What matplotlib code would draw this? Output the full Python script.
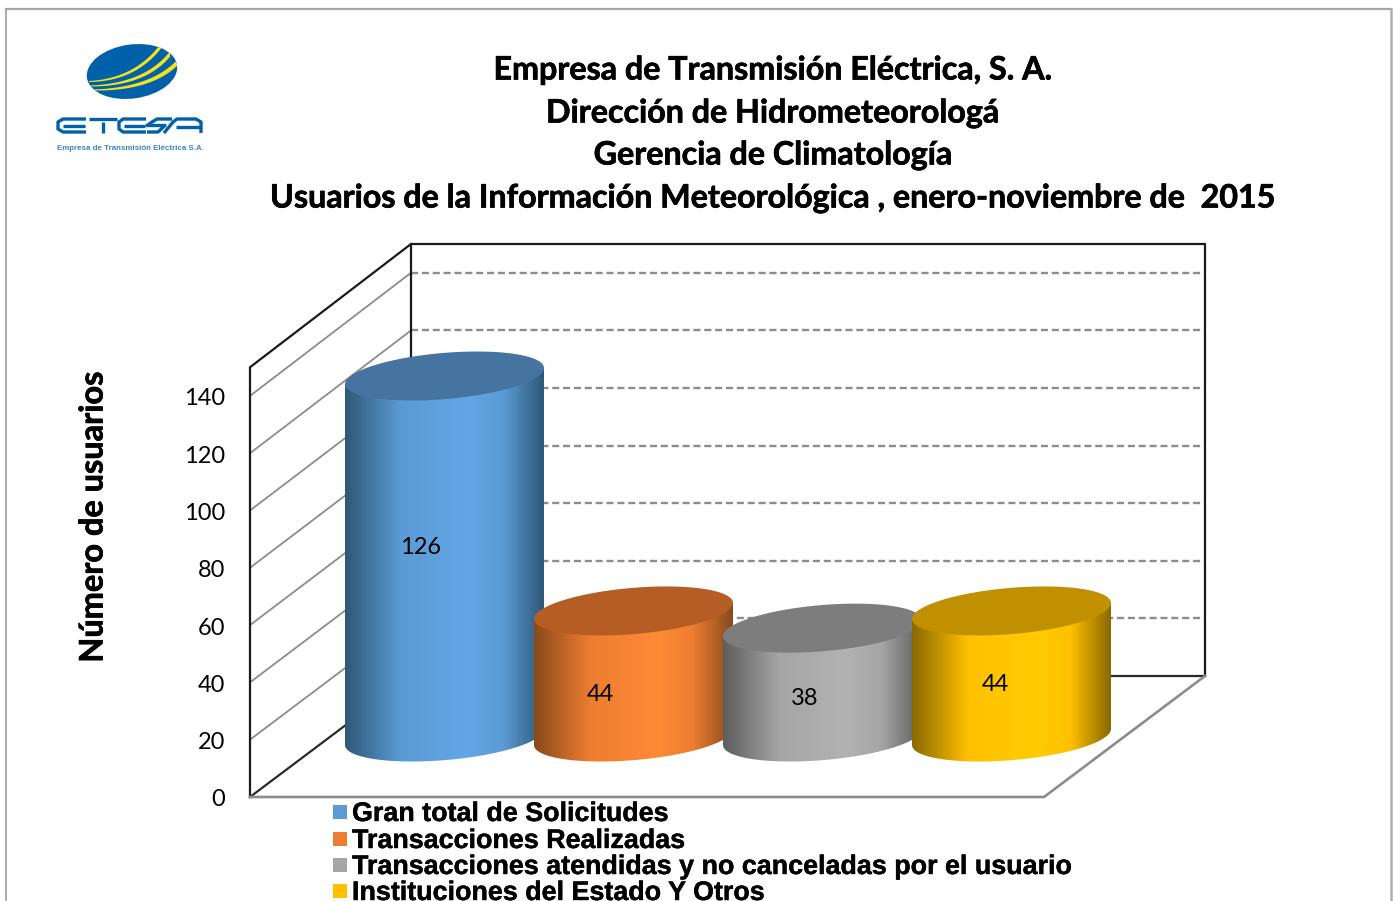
import matplotlib
matplotlib.use("Agg")
import matplotlib.pyplot as plt
import numpy as np
import matplotlib.patheffects as pe
from matplotlib.patches import Polygon, Ellipse, Rectangle

title_lines = ["Empresa de Transmisión Eléctrica, S. A.",
               "Dirección de Hidrometeorologá",
               "Gerencia de Climatología",
               "Usuarios de la Información Meteorológica , enero-noviembre de  2015"]
categories = ["Gran total de Solicitudes", "Transacciones Realizadas",
              "Transacciones atendidas y no canceladas por el usuario",
              "Instituciones del Estado Y Otros"]
values = [126, 44, 38, 44]
y_ticks = [0, 20, 40, 60, 80, 100, 120, 140]
y_max = 150
y_label = "Número de usuarios"

# edge, middle, highlight, top face
blues = ["#2f5878", "#5b9bd5", "#63a6e6", "#44749f"]
oranges = ["#8a4a1c", "#ed7d31", "#ff8a36", "#b55d24"]
greys = ["#5e5e5e", "#a5a5a5", "#b2b2b2", "#7d7d7d"]
yellows = ["#8a6a00", "#ffc000", "#ffcc00", "#c09000"]
palette = [blues, oranges, greys, yellows]
legend_colors = ["#5b9bd5", "#ed7d31", "#a5a5a5", "#ffc000"]

# figure is worked in pixels of the 1396x901 picture
fig = plt.figure(figsize=(13.96, 9.01), dpi=100)
ax = fig.add_axes([0, 0, 1, 1])
ax.axis("off")

x0, y0 = 250, 797      # front corner of the floor
dx, dy = 161, -121     # depth of the box
wall_w = 794
unit = 2.865           # pixels for one user, front edge
back_unit = 2.88       # same on the back wall


def val_y(v):
    return y0 - v * unit


def back_y(v):
    return y0 + dy - v * back_unit


# page frame
ax.plot([6, 6], [901, 9], color="#a6a6a6", lw=1.3)
ax.plot([6, 1391], [9, 9], color="#a6a6a6", lw=1.6)
ax.plot([1391, 1391], [9, 901], color="#b0b0b0", lw=1.8)

# gridlines
for v in y_ticks[1:]:
    ax.plot([x0, x0 + dx], [val_y(v), back_y(v)], color="#8c8c8c", lw=1.3, zorder=2)
    ax.plot([x0 + dx, x0 + dx + wall_w], [back_y(v), back_y(v)], color="#8c8c8c",
            lw=1.7, ls=(0, (3, 1.6)), zorder=2)

# box outlines
ax.plot([x0 + dx + wall_w, x0 + dx + wall_w, x0 + dx, x0 + dx], [y0 + dy, back_y(y_max), back_y(y_max), y0 + dy],
        color="#1a1a1a", lw=1.6, zorder=2)
ax.plot([x0, x0, x0 + dx], [y0, val_y(y_max), back_y(y_max)], color="#1a1a1a", lw=1.6, zorder=2)
ax.plot([x0, x0 + dx, x0 + dx + wall_w], [y0, y0 + dy, y0 + dy], color="#2a2a2a", lw=1.6, zorder=2)
ax.plot([x0, x0 + wall_w, x0 + wall_w + dx], [y0, y0, y0 + dy], color="#8c8c8c", lw=1.9, zorder=2)

# cylinders
centers = [444.5, 633.5, 822.5, 1011.5]
base_y = 737
rad = 94
rad_d = 24.5
shear = dx / -dy


def ring(cx, cy, t):
    return cx + rad * np.cos(t) + rad_d * shear * np.sin(t), cy - rad_d * np.sin(t)


t_right = np.arctan2(rad_d * shear, rad)
half = rad + 5.5
for i, (c, v, cols) in enumerate(zip(centers, values, palette)):
    z = 5 + i
    top_y = base_y - v * unit
    t = np.linspace(t_right + np.pi, t_right + 2 * np.pi, 80)
    bx, by = ring(c, base_y, t)
    # side runs up to the chord of the top ring, the top face hides the rest
    ux, uy = ring(c, top_y, t[[-1, 0]])
    side = Polygon(np.r_[np.c_[bx, by], np.c_[ux, uy]], closed=True, fc="none", ec="none", zorder=z)
    ax.add_patch(side)
    rgb = matplotlib.colors.LinearSegmentedColormap.from_list(
        "c", [(0, cols[0]), (0.28, cols[1]), (0.62, cols[2]), (0.8, cols[1]), (1, cols[0])])
    grad = np.linspace(0, 1, 200).reshape(1, -1)
    im = ax.imshow(grad, cmap=rgb, extent=[c - half, c + half, base_y + 40, top_y - 30],
                   aspect="auto", zorder=z, interpolation="bilinear")
    im.set_clip_path(side)
    tx, ty = ring(c, top_y, np.linspace(0, 2 * np.pi, 120))
    ax.add_patch(Polygon(np.c_[tx, ty], closed=True, fc=cols[3], ec="none", zorder=z + 0.5))

# value labels
label_pos = [(421, 547.5), (600, 694.5), (804.5, 698.5), (995.5, 684.5)]
for (lx, ly), v in zip(label_pos, values):
    ax.text(lx, ly, str(v), ha="center", va="center", fontsize=17, family="Lato", color="black", zorder=20)

# axis text
for v in y_ticks:
    ax.text(225.5, val_y(v) + 3, str(v), ha="right", va="center", fontsize=17, family="Lato", color="black")
ax.text(93, 517, y_label, rotation=90, ha="center", va="center", fontsize=23.4, family="Lato",
        fontweight="bold", color="black", path_effects=[pe.withStroke(linewidth=0.5, foreground="black")])

# title
for yy, line in zip([70, 113, 155, 198], title_lines):
    ax.text(773, yy, line, ha="center", va="center", fontsize=23.2, family="Lato", fontweight="bold",
            color="black", path_effects=[pe.withStroke(linewidth=0.5, foreground="black")])

# legend
for yy, name, col in zip([812, 839, 865, 891], categories, legend_colors):
    ax.add_patch(Rectangle((333, yy - 7), 14, 14, fc=col, ec="none"))
    ax.text(352, yy + 2, name, ha="left", va="center", fontsize=19.35, family="Liberation Sans",
            fontweight="bold", color="black", path_effects=[pe.withStroke(linewidth=0.3, foreground="black")])

# logo
logo_blue = "#0060a9"
logo = Ellipse((132, 71.5), 91, 54, angle=-8, fc=logo_blue, ec="none", zorder=3)
ax.add_patch(logo)
swooshes = [((89, 81.5), (135, 80), (161, 46), 2.0), ((90, 86), (145, 85), (170, 54), 2.2),
            ((91, 90), (150, 90), (177, 63), 2.4)]
for p0, p1, p2, w in swooshes:
    s = np.linspace(0, 1, 40)
    px = (1 - s) ** 2 * p0[0] + 2 * s * (1 - s) * p1[0] + s ** 2 * p2[0]
    py = (1 - s) ** 2 * p0[1] + 2 * s * (1 - s) * p1[1] + s ** 2 * p2[1]
    up = py - w * s - 0.5
    dn = py + w * s + 0.5
    sw = Polygon(np.r_[np.c_[px, up], np.c_[px, dn][::-1]], closed=True, fc="#f5e21c", ec="none", zorder=4)
    ax.add_patch(sw)
    sw.set_clip_path(logo)

# stylised wordmark of the logo, it is artwork and not a font
mark = [[(86, 119), (63, 119), (58, 122), (58, 129), (63, 132), (86, 132)],
        [(63, 125.5), (85, 125.5)],
        [(89, 119), (117, 119)], [(103, 122), (103, 133)],
        [(146, 119), (123, 119), (119, 122), (119, 129), (123, 132), (146, 132)],
        [(124, 125.5), (145, 125.5)],
        [(172, 119), (157, 119), (152, 122), (147, 125.5), (165, 125.5), (158, 132), (147, 132)],
        [(164, 133), (173, 122), (177, 119), (196, 119), (201, 122), (201, 133)],
        [(176, 126.5), (200, 126.5)]]
for stroke in mark:
    ax.plot(*zip(*stroke), color=logo_blue, lw=2.4, solid_capstyle="butt", solid_joinstyle="round", zorder=3)
ax.text(130, 148, "Empresa de Transmisión Eléctrica S.A.", ha="center", va="center", fontsize=5.7,
        family="Liberation Sans", fontweight="bold", color="#3c86c4")

ax.set_xlim(0, 1396)
ax.set_ylim(901, 0)
fig.savefig("out.png", dpi=100, facecolor="white")
